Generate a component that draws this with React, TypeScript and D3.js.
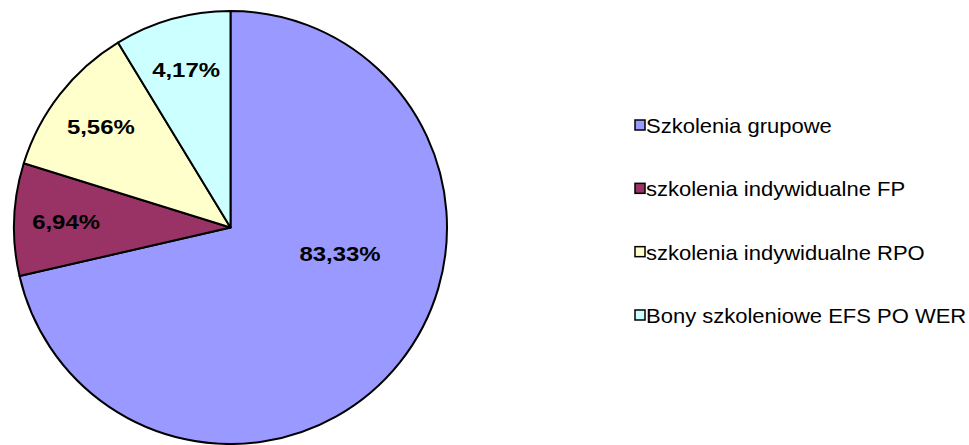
import React from "react";
import * as d3 from "d3";

// Categories (legend order = drawing order, clockwise from 12 o'clock)
const categories = [
  "Szkolenia grupowe",
  "szkolenia indywidualne FP",
  "szkolenia indywidualne RPO",
  "Bony szkoleniowe EFS PO WER",
];
// Slice sizes as drawn in the picture (share of the full circle, %)
const sliceShares = [71.4, 8.4, 11.5, 8.7];
// Data labels printed on the slices
const percentLabels = ["83,33%", "6,94%", "5,56%", "4,17%"];
const colors = ["#9999FF", "#993366", "#FFFFCC", "#CCFFFF"];

const W = 969;
const H = 445;
const CX = 230.5;
const CY = 227.5;
const R = 216.5;
const FONT = "Arial, 'Liberation Sans', sans-serif";

export default function App() {
  const pie = d3
    .pie<number>()
    .sort(null)
    .value((d) => d)
    .startAngle(0)
    .endAngle(2 * Math.PI);
  const arcs = pie(sliceShares);
  const arc = d3.arc<d3.PieArcDatum<number>>().innerRadius(0).outerRadius(R);

  // label placement: small slices at 0.76R on the mid-angle; the big slice is
  // placed "best fit" by the original tool, shifted toward the top-right.
  const labelPos = (d: d3.PieArcDatum<number>, i: number) => {
    let a = (d.startAngle + d.endAngle) / 2;
    let k = 0.76;
    if (i === 0) {
      a = (103.5 * Math.PI) / 180;
      k = 0.52;
    }
    return [CX + Math.sin(a) * R * k, CY - Math.cos(a) * R * k];
  };

  const legendY = d3
    .scalePoint<string>()
    .domain(categories)
    .range([133, 323]);

  return (
    <svg
      width={W}
      height={H}
      style={{ position: "absolute", left: 0, top: 0, background: "#fff" }}
    >
      <g transform={`translate(${CX},${CY})`}>
        {arcs.map((d, i) => (
          <path
            key={i}
            d={arc(d) || ""}
            fill={colors[i]}
            stroke="#000"
            strokeWidth={2}
            strokeLinejoin="round"
          />
        ))}
      </g>
      {arcs.map((d, i) => {
        const [x, y] = labelPos(d, i);
        return (
          <text
            key={i}
            transform={`translate(${x},${y + 7.5}) scale(1.14,1)`}
            textAnchor="middle"
            fontFamily={FONT}
            fontWeight="bold"
            fontSize={21}
            fill="#000"
          >
            {percentLabels[i]}
          </text>
        );
      })}
      {categories.map((c, i) => {
        const by = legendY(c) as number;
        return (
          <g key={c}>
            <rect
              x={635}
              y={by - 13}
              width={10}
              height={10}
              fill={colors[i]}
              stroke="#000"
              strokeWidth={1.5}
            />
            <text
              transform={`translate(646,${by}) scale(1.1,1)`}
              fontFamily={FONT}
              fontSize={20}
              fill="#000"
            >
              {c}
            </text>
          </g>
        );
      })}
    </svg>
  );
}
